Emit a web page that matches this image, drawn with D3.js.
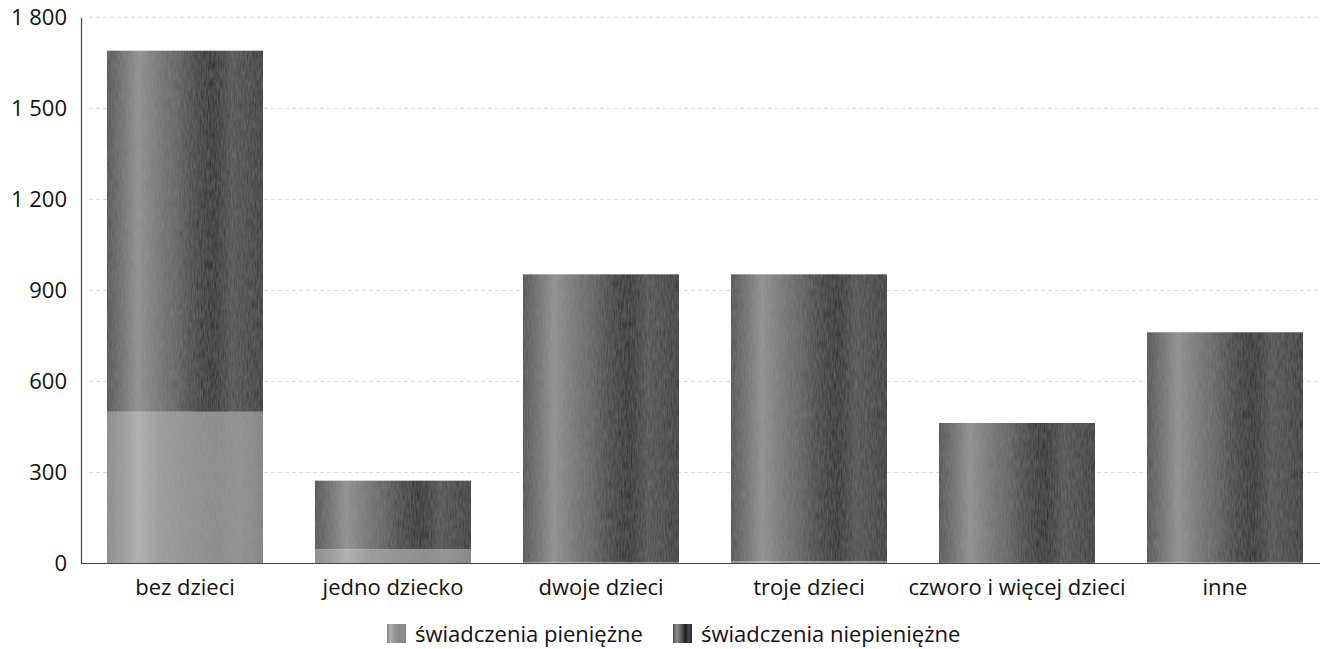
<!DOCTYPE html>
<html><head><meta charset="utf-8">
<script src="https://cdn.jsdelivr.net/npm/d3@7"></script>
<style>
body{margin:0;background:#fff;}
svg{display:block;font-family:"Open Sans",sans-serif;}
</style></head>
<body><svg id="c" width="1322" height="649"></svg>
<script>
const categories = ["bez dzieci","jedno dziecko","dwoje dzieci","troje dzieci","czworo i więcej dzieci","inne"];
const pieniezne = [500, 47, 4, 8, 2, 4];
const niepieniezne = [1190, 226, 949, 945, 461, 758];
const seriesNames = ["świadczenia pieniężne","świadczenia niepieniężne"];
const yTicks = [0,300,600,900,1200,1500,1800];

const svg = d3.select("#c");
const m = {left:81, right:-7, top:17.3, bottom:86};
const W = 1322, H = 649;
const FS = 22;
const x = d3.scaleBand().domain(categories).range([m.left, W - m.right]).paddingInner(0.25).paddingOuter(0.125);
const y = d3.scaleLinear().domain([0,1800]).range([563.5, m.top]);

const defs = svg.append("defs");
function grad(id, stops){
  const g = defs.append("linearGradient").attr("id",id).attr("x1","0").attr("x2","1").attr("y1","0").attr("y2","0");
  stops.forEach(([o,c])=>g.append("stop").attr("offset",o).attr("stop-color",c));
}
grad("gDark",[[0,"#4a4a4a"],[0.08,"#666"],[0.2,"#8e8e8e"],[0.32,"#747474"],[0.45,"#5a5a5a"],[0.6,"#2e2e2e"],[0.68,"#1c1c1c"],[0.8,"#484848"],[0.9,"#3a3a3a"],[1,"#2a2a2a"]]);
grad("gLight",[[0,"#8a8a8a"],[0.1,"#9a9a9a"],[0.2,"#b0b0b0"],[0.35,"#999"],[0.55,"#8e8e8e"],[0.7,"#888"],[0.85,"#8e8e8e"],[1,"#808080"]]);
const f = defs.append("filter").attr("id","noise").attr("x","0").attr("y","0").attr("width","100%").attr("height","100%");
f.append("feTurbulence").attr("type","fractalNoise").attr("baseFrequency","0.7 0.1").attr("numOctaves",2).attr("seed",3).attr("result","n");
f.append("feColorMatrix").attr("in","n").attr("type","matrix")
  .attr("values","0 0 0 0 0.5  0 0 0 0 0.5  0 0 0 0 0.5  0 0 0 0.22 0").attr("result","nm");
f.append("feComposite").attr("in","nm").attr("in2","SourceGraphic").attr("operator","atop");

// gridlines
svg.append("g").selectAll("line").data(yTicks.filter(d=>d>0)).join("line")
  .attr("x1", m.left+8).attr("x2", 1318)
  .attr("y1", d=>y(d)).attr("y2", d=>y(d))
  .attr("stroke","#d8d8d8").attr("stroke-width",1).attr("stroke-dasharray","4,3");

const data = categories.map((c,i)=>({cat:c, p:pieniezne[i], n:niepieniezne[i]}));
const stack = d3.stack().keys(["p","n"])(data);
const fills = {p:"url(#gLight)", n:"url(#gDark)"};
stack.forEach(layer=>{
  svg.append("g").selectAll("rect").data(layer).join("rect")
    .attr("x", d=>x(d.data.cat)).attr("width", x.bandwidth())
    .attr("y", d=>y(d[1])).attr("height", d=>y(d[0])-y(d[1]))
    .attr("fill", fills[layer.key]).attr("filter","url(#noise)");
});

const yAxis = d3.axisLeft(y).tickValues(yTicks).tickSize(0).tickPadding(14)
  .tickFormat(d=>d3.format(",")(d).replace(/,/g," "));
const gy = svg.append("g").attr("transform",`translate(${m.left},0)`).call(yAxis);
gy.select(".domain").attr("stroke","#444").attr("stroke-width",1.2);
gy.selectAll("text").attr("font-size",FS).attr("fill","#111").attr("font-family","Open Sans");

const xAxis = d3.axisBottom(x).tickSize(0).tickPadding(16);
const gx = svg.append("g").attr("transform",`translate(0,${y(0)})`).call(xAxis);
gx.select(".domain").attr("d",`M${m.left},0H1320`).attr("stroke","#444").attr("stroke-width",1.2);
gx.selectAll("text").attr("font-size",FS).attr("fill","#111").attr("font-family","Open Sans");

const legend = svg.append("g").attr("transform","translate(387,624)");
const lx = [0, 286];
seriesNames.forEach((s,i)=>{
  const g = legend.append("g").attr("transform",`translate(${lx[i]},0)`);
  g.append("rect").attr("width",19).attr("height",19).attr("fill", i===0?"url(#gLight)":"url(#gDark)");
  g.append("text").attr("x",28).attr("y",18).attr("font-size",FS).attr("fill","#111").text(s);
});
</script></body></html>
